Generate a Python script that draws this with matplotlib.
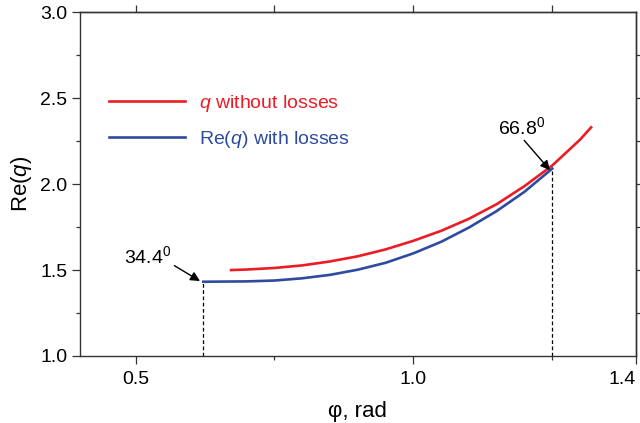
import numpy as np
import matplotlib
matplotlib.use('Agg')
import matplotlib.pyplot as plt

plt.rcParams['font.family'] = ['Liberation Sans', 'DejaVu Sans']
plt.rcParams['mathtext.fontset'] = 'custom'
plt.rcParams['mathtext.rm'] = 'Liberation Sans'
plt.rcParams['mathtext.it'] = 'Liberation Sans:italic'

# q without losses
phi_red = [0.672, 0.70, 0.75, 0.80, 0.85, 0.90, 0.95, 1.00, 1.05, 1.10, 1.15, 1.20, 1.25, 1.30, 1.32]
req_red = [1.500, 1.503, 1.512, 1.527, 1.550, 1.580, 1.620, 1.670, 1.728, 1.798, 1.883, 1.988, 2.108, 2.258, 2.330]

# Re(q) with losses
phi_blue = [0.622, 0.70, 0.75, 0.80, 0.85, 0.90, 0.95, 1.00, 1.05, 1.10, 1.15, 1.20, 1.25]
req_blue = [1.432, 1.434, 1.439, 1.452, 1.472, 1.502, 1.542, 1.597, 1.664, 1.747, 1.843, 1.955, 2.090]

# limit angles
lim_phi = [phi_blue[0], phi_blue[-1]]
lim_req = [req_blue[0], req_blue[-1]]

red = '#ec1c24'
blue = '#2e4b9f'

fig = plt.figure(figsize=(6.4, 4.23), dpi=100)
ax = fig.add_axes([0.125, 0.1584, 0.868, 0.8128])

ax.plot(phi_red, req_red, color=red, lw=1.9, label=r'$\mathit{q}$ without losses')
ax.plot(phi_blue, req_blue, color=blue, lw=1.9, label=r'Re($\mathit{q}$) with losses')

for p, r in zip(lim_phi, lim_req):
    ax.plot([p, p], [1.0, r], color='k', lw=0.9, ls=(0, (3, 2)))

ax.annotate(r'34.4$^0$', xy=(0.616, 1.436), xytext=(0.48, 1.58),
            fontsize=14, va='center', ha='left',
            arrowprops=dict(arrowstyle='-|>', color='k', lw=1, mutation_scale=14,
                            shrinkA=0, shrinkB=0, relpos=(1.0, 0.15)))
ax.annotate(r'66.8$^0$', xy=(1.246, 2.081), xytext=(1.152, 2.334),
            fontsize=14, va='center', ha='left',
            arrowprops=dict(arrowstyle='-|>', color='k', lw=1, mutation_scale=14,
                            shrinkA=0, shrinkB=0, relpos=(0.45, 0.15)))

ax.set_xlim(0.4, 1.4)
ax.set_ylim(1.0, 3.0)
ax.set_xticks([0.5, 1.0, 1.4])
xl = ax.set_xticklabels(['0.5', '1.0', '1.4'])
xl[2].set_horizontalalignment('right')
ax.set_xticks([0.75, 1.25], minor=True)
ax.set_yticks([1.0, 1.5, 2.0, 2.5, 3.0])
ax.set_yticklabels(['1.0', '1.5', '2.0', '2.5', '3.0'])
ax.set_yticks(np.arange(1.25, 3.0, 0.5), minor=True)
ax.tick_params(which='major', direction='out', length=6, width=0.9, labelsize=14, color='#333333', pad=3)
ax.tick_params(which='minor', direction='out', length=3, width=0.9, color='#333333')
ax.tick_params(axis='x', which='major', pad=5)

top = ax.secondary_xaxis('top')
top.set_xticks([0.5, 0.75, 1.0, 1.25])
top.set_xticklabels([])
top.tick_params(direction='out', length=5, width=0.9, color='#333333')
right = ax.secondary_yaxis('right')
right.set_yticks(np.arange(1.25, 3.0, 0.25))
right.set_yticklabels([])
right.tick_params(direction='out', length=5, width=0.9, color='#333333')
for s in list(ax.spines.values()) + [top.spines['top'], right.spines['right']]:
    s.set_color('#333333')
    s.set_linewidth(1.0)

ax.set_xlabel('φ, rad', fontsize=16)
ax.set_ylabel(r'Re($\mathit{q}$)', fontsize=16)
ax.xaxis.set_label_coords(0.5, -0.132)
ax.yaxis.set_label_coords(-0.082, 0.5)

leg = ax.legend(loc='upper left', bbox_to_anchor=(0.053, 0.765), frameon=False,
                fontsize=14, handlelength=3.9, handletextpad=0.7, labelspacing=0.75,
                borderpad=0, borderaxespad=0)
for txt, c in zip(leg.get_texts(), [red, blue]):
    txt.set_color(c)

fig.savefig('out.png', dpi=100)
